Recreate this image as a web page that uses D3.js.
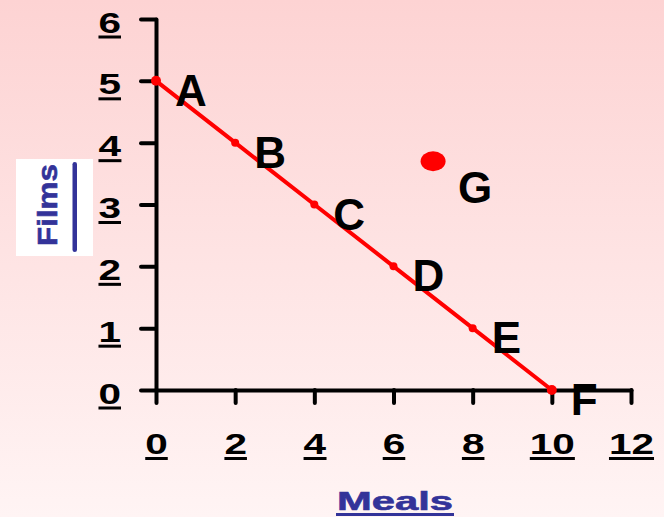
<!DOCTYPE html>
<html>
<head>
<meta charset="utf-8">
<script src="https://cdn.jsdelivr.net/npm/d3@7"></script>
<style>
  html, body { margin: 0; padding: 0; }
  body { width: 664px; height: 517px; overflow: hidden; }
  svg { display: block; font-family: Arial, "Liberation Sans", sans-serif; }
</style>
</head>
<body>
<div id="chart"></div>
<script>
// production possibility frontier
const pointNames = ["A", "B", "C", "D", "E", "F"];
const meals = [0, 2, 4, 6, 8, 10];
const films = [5, 4, 3, 2, 1, 0];
// point off the frontier
const extraName = "G";
const extraMeals = 7;
const extraFilms = 3.7;

const xTicks = [0, 2, 4, 6, 8, 10, 12];
const yTicks = [0, 1, 2, 3, 4, 5, 6];

const width = 664, height = 517;

const svg = d3.select("#chart").append("svg")
    .attr("width", width)
    .attr("height", height);

// background gradient
const grad = svg.append("defs").append("linearGradient")
    .attr("id", "bg")
    .attr("x1", 0).attr("y1", 0).attr("x2", 0).attr("y2", 1);
grad.append("stop").attr("offset", "0%").attr("stop-color", "#fdd3d3");
grad.append("stop").attr("offset", "100%").attr("stop-color", "#fff4f4");
svg.append("rect").attr("width", width).attr("height", height).attr("fill", "url(#bg)");

const x = d3.scaleLinear().domain([0, 12]).range([156, 631]);
const y = d3.scaleLinear().domain([0, 6]).range([390, 19]);

// axes
const yAxis = svg.append("g")
    .attr("transform", `translate(${x(0)},0)`)
    .call(d3.axisLeft(y).tickValues(yTicks).tickFormat(d3.format("d"))
        .tickSize(15).tickSizeOuter(0).tickPadding(20));
const xAxis = svg.append("g")
    .attr("transform", `translate(0,${y(0)})`)
    .call(d3.axisBottom(x).tickValues(xTicks).tickFormat(d3.format("d"))
        .tickSize(13).tickSizeOuter(0).tickPadding(30));

[yAxis, xAxis].forEach(g => {
    g.select(".domain").attr("stroke", "#000").attr("stroke-width", 4).attr("stroke-linecap", "round");
    g.selectAll(".tick line").attr("stroke", "#000").attr("stroke-width", 4).attr("stroke-linecap", "round");
    g.selectAll(".tick text")
        .attr("fill", "#000")
        .attr("font-size", 30)
        .attr("font-weight", "bold");
});
// baselines: y labels 13px under the tick, x labels 64px under the axis
yAxis.selectAll(".tick text").attr("dy", null).attr("y", 13);
xAxis.selectAll(".tick text").attr("dy", null).attr("y", 64);

// labels are drawn wider than the font and underlined
function tickUnderline(g, baseY) {
    g.selectAll(".tick text").each(function() {
        const w = this.getComputedTextLength();
        d3.select(this).attr("textLength", w * 1.35).attr("lengthAdjust", "spacingAndGlyphs");
        const bb = this.getBBox();
        d3.select(this.parentNode).append("rect")
            .attr("x", bb.x)
            .attr("y", baseY)
            .attr("width", bb.width)
            .attr("height", 3)
            .attr("fill", "#000");
    });
}
tickUnderline(yAxis, 16);
tickUnderline(xAxis, 67);

// frontier line
const line = d3.line().x((d, i) => x(meals[i])).y((d, i) => y(films[i]));
svg.append("path")
    .datum(pointNames)
    .attr("d", line)
    .attr("fill", "none")
    .attr("stroke", "#ff0000")
    .attr("stroke-width", 4);

svg.selectAll(".pt")
    .data(pointNames)
    .enter().append("circle")
    .attr("class", "pt")
    .attr("cx", (d, i) => x(meals[i]))
    .attr("cy", (d, i) => y(films[i]))
    .attr("r", (d, i) => (i === 0 || i === pointNames.length - 1) ? 5 : 4)
    .attr("fill", "#ff0000");

svg.selectAll(".lbl")
    .data(pointNames)
    .enter().append("text")
    .attr("class", "lbl")
    .attr("x", (d, i) => x(meals[i]) + 19)
    .attr("y", (d, i) => y(films[i]) + 25)
    .attr("font-size", 44)
    .attr("font-weight", "bold")
    .attr("fill", "#000")
    .text(d => d);

// point G
svg.append("ellipse")
    .attr("cx", x(extraMeals))
    .attr("cy", y(extraFilms))
    .attr("rx", 12.5)
    .attr("ry", 10)
    .attr("fill", "#ff0000");
svg.append("text")
    .attr("x", x(extraMeals) + 25)
    .attr("y", y(extraFilms) + 42)
    .attr("font-size", 44)
    .attr("font-weight", "bold")
    .attr("fill", "#000")
    .text(extraName);

// axis titles
svg.append("text")
    .attr("x", 395)
    .attr("y", 509.5)
    .attr("text-anchor", "middle")
    .attr("font-size", 26.5)
    .attr("font-weight", "bold")
    .attr("fill", "#333399")
    .attr("stroke", "#333399")
    .attr("stroke-width", 0.6)
    .attr("textLength", 116)
    .attr("lengthAdjust", "spacingAndGlyphs")
    .text("Meals");
svg.append("rect")
    .attr("x", 336).attr("y", 513)
    .attr("width", 118).attr("height", 3)
    .attr("fill", "#333399");

svg.append("rect")
    .attr("x", 16).attr("y", 159)
    .attr("width", 77).attr("height", 97)
    .attr("fill", "#ffffff");
svg.append("text")
    .attr("transform", "translate(56.5,205) rotate(-90)")
    .attr("text-anchor", "middle")
    .attr("font-size", 28)
    .attr("font-weight", "bold")
    .attr("fill", "#333399")
    .attr("stroke", "#333399")
    .attr("stroke-width", 0.6)
    .attr("textLength", 82)
    .attr("lengthAdjust", "spacingAndGlyphs")
    .text("Films");
svg.append("rect")
    .attr("x", 72.5).attr("y", 162)
    .attr("width", 4.5).attr("height", 90)
    .attr("rx", 2.25)
    .attr("fill", "#333399");
</script>
</body>
</html>
